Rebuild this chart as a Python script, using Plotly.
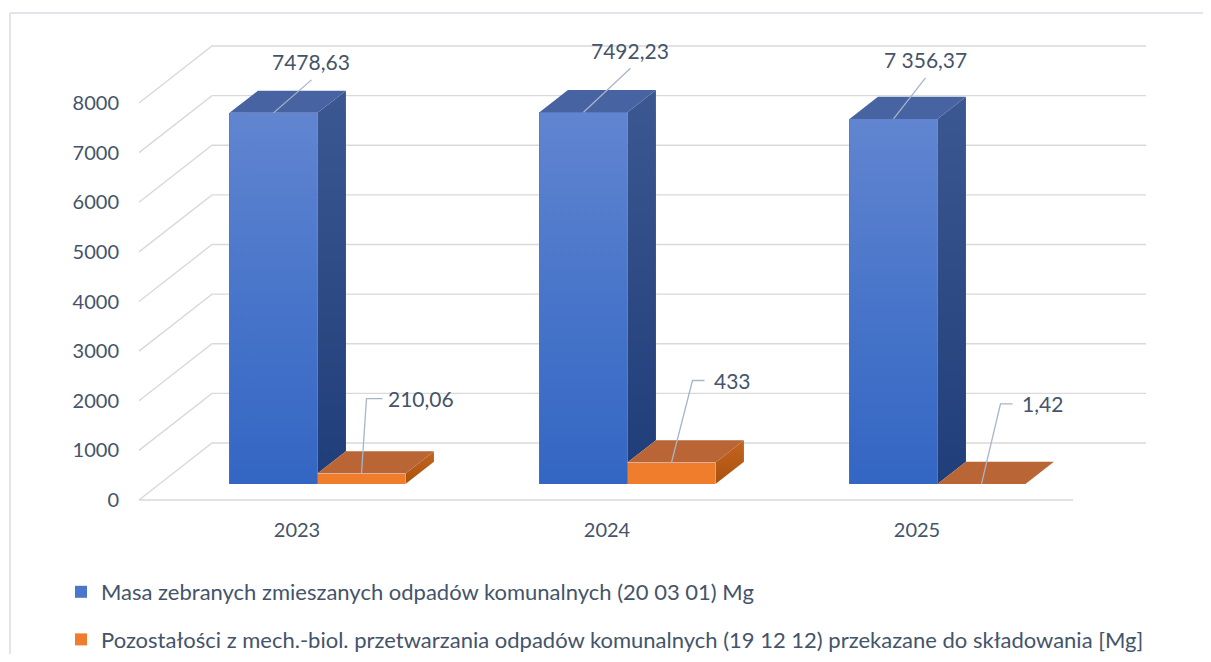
import plotly.graph_objects as go

# ---------------- data ----------------
years = ["2023", "2024", "2025"]
masa = [7478.63, 7492.23, 7356.37]
pozostalosci = [210.06, 433.0, 1.42]
masa_labels = ["7478,63", "7492,23", "7 356,37"]
pozostalosci_labels = ["210,06", "433", "1,42"]
y_ticks = [0, 1000, 2000, 3000, 4000, 5000, 6000, 7000, 8000]
series_names = [
    "Masa zebranych zmieszanych odpadów komunalnych (20 03 01) Mg",
    "Pozostałości z mech.-biol. przetwarzania odpadów komunalnych (19 12 12) przekazane do składowania [Mg]",
]

# ---------------- geometry (pixel layout -> axis units) ----------------
OFF = 8                                  # page body margin
W, H = 1211 - OFF, 662 - 2 * OFF
L, R, T, B = 130 - OFF, 1160 - OFF, 15 - OFF, 510 - OFF   # plot area (figure px)
X0, Y0 = 297 - OFF, 500 - OFF            # category 0 / value 0 on the front plane
SX = 310.0                               # px per category
SY = 49.625 / 1000.0                     # px per value unit


def dx(p):
    return p / SX


def dy(p):
    return p / SY


DX, DY = dx(73), dy(57)                  # full depth of the 3D box
F = 16 / 57                              # bars' front plane (fraction of depth)
BD = 0.39                                # bar depth (fraction of depth)
BW = dx(88)                              # bar width
FL = dx(139 - 297)                       # front-left of grid
BRX = dx(1146 - 297)                     # back-right of grid

base = F * DY
xoff = F * DX
bdx, bdy = BD * DX, BD * DY

TXT = "#44546A"
FONT = "Lato, 'Open Sans', sans-serif"
GRID = "#D9D9D9"
LEADER = "#A6B5C8"

fig = go.Figure()

blue_x = [i + xoff - BW / 2 for i in range(len(years))]
orng_x = [i + xoff + BW / 2 for i in range(len(years))]

fig.add_trace(go.Bar(
    x=blue_x, y=masa, base=base, width=BW, name=series_names[0],
    marker=dict(color="#4A77C9", line=dict(width=0)), legendgroup="a",
    hovertext=[f"{y}: {v}" for y, v in zip(years, masa_labels)], hoverinfo="text",
))
fig.add_trace(go.Bar(
    x=orng_x, y=pozostalosci, base=base, width=BW, name=series_names[1],
    marker=dict(color="#F07D2C", line=dict(width=0)), legendgroup="b",
    hovertext=[f"{y}: {v}" for y, v in zip(years, pozostalosci_labels)], hoverinfo="text",
))


def poly(xs, ys, color=None, grad=None):
    kw = dict(x=xs + [xs[0]], y=ys + [ys[0]], mode="lines", fill="toself",
              line=dict(width=0), hoverinfo="skip", showlegend=False)
    if grad:
        kw["fillgradient"] = dict(type="vertical", colorscale=grad)
    else:
        kw["fillcolor"] = color
    fig.add_trace(go.Scatter(**kw))


# blue 3D faces (front shading, side, top)
for i in range(len(years)):
    xl = blue_x[i] - BW / 2
    xr = blue_x[i] + BW / 2
    top = base + masa[i]
    b2 = base + pozostalosci[i]
    poly([xl, xr, xr, xl], [base, base, top, top],
         grad=[[0, "#3366C3"], [0.5, "#4875CA"], [1, "#6185D0"]])
    poly([xr, xr + bdx, xr + bdx, xr], [b2, b2 + bdy, top + bdy, top],
         grad=[[0, "#203E79"], [1, "#3C5893"]])
    poly([xl, xl + bdx, xr + bdx, xr], [top, top + bdy, top + bdy, top], color="#4863A1")

# orange 3D faces
for i in range(len(years)):
    xl = orng_x[i] - BW / 2
    xr = orng_x[i] + BW / 2
    top = base + pozostalosci[i]
    poly([xr, xr + bdx, xr + bdx, xr], [base, base + bdy, top + bdy, top],
         grad=[[0, "#A9510F"], [1, "#C4651F"]])
    poly([xl, xl + bdx, xr + bdx, xr], [top, top + bdy, top + bdy, top], color="#BA6536")

annotations = []

# blue labels: leader from top-front centre up to below the text
blue_off = [(38, 51), (47, 62), (32, 59)]
for i in range(len(years)):
    ax, ay = blue_x[i], base + masa[i]
    ox, oy = blue_off[i]
    fig.add_trace(go.Scatter(
        x=[ax, ax + dx(ox)], y=[ay, ay + dy(oy - 18)], mode="lines",
        line=dict(color=LEADER, width=1.3), hoverinfo="skip", showlegend=False))
    annotations.append(dict(x=ax, y=ay, xref="x", yref="y", text=masa_labels[i],
                            showarrow=False, xshift=ox, yshift=oy, xanchor="center",
                            yanchor="middle", font=dict(size=21, color=TXT, family=FONT)))

# orange labels: elbow leaders
orng_off = [(5, 21, 25, 75), (21, 33, 41, 82), (19, 31, 39, 80)]
for i in range(len(years)):
    ax, ay = orng_x[i], base + pozostalosci[i]
    ex, hx, tx, oy = orng_off[i]
    fig.add_trace(go.Scatter(
        x=[ax, ax + dx(ex), ax + dx(hx)], y=[ay, ay + dy(oy), ay + dy(oy)], mode="lines",
        line=dict(color=LEADER, width=1.3), hoverinfo="skip", showlegend=False))
    annotations.append(dict(x=ax, y=ay, xref="x", yref="y", text=pozostalosci_labels[i],
                            showarrow=False, xshift=tx, yshift=oy, xanchor="left",
                            yanchor="middle", font=dict(size=21, color=TXT, family=FONT)))

# gridlines (front-left -> back wall -> back-right), drawn below the bars
shapes = []
for v in y_ticks:
    shapes.append(dict(
        type="path", xref="x", yref="y", layer="below",
        path=f"M {FL},{v} L {FL + DX},{v + DY} L {BRX},{v + DY}",
        line=dict(color=GRID, width=1.4)))
shapes.append(dict(type="line", xref="x", yref="y", layer="below",
                   x0=FL, y0=0, x1=BRX - DX, y1=0, line=dict(color=GRID, width=1.4)))

# outer chart border: only the left and top edges are visible in the picture
bx0 = (10 - OFF - L) / (R - L)
bx1 = (W + 20 - L) / (R - L)
by1 = (B - (13 - OFF)) / (B - T)
by0 = (B - (H + 20)) / (B - T)
border = dict(color="#D9DEE6", width=1.5)
shapes.append(dict(type="line", xref="paper", yref="paper", layer="below",
                   x0=bx0, x1=bx1, y0=by1, y1=by1, line=border))
shapes.append(dict(type="line", xref="paper", yref="paper", layer="below",
                   x0=bx0, x1=bx0, y0=by0, y1=by1, line=border))

fig.update_layout(
    width=W, height=H, autosize=False,
    margin=dict(l=L, r=W - R, t=T, b=H - B, autoexpand=False),
    paper_bgcolor="white", plot_bgcolor="white",
    barmode="overlay", bargap=0,
    font=dict(family=FONT, color=TXT, size=20),
    xaxis=dict(range=[dx(L - X0), dx(R - X0)], tickvals=[0, 1, 2], ticktext=years,
               showgrid=False, zeroline=False, showline=False, ticks="",
               ticklabelstandoff=6, tickfont=dict(size=20, color=TXT), fixedrange=True,
               automargin=False),
    yaxis=dict(range=[dy(Y0 - B), dy(Y0 - T)], tickvals=y_ticks,
               ticktext=[str(v) for v in y_ticks],
               showgrid=False, zeroline=False, showline=False, ticks="",
               ticklabelstandoff=10, tickfont=dict(size=20, color=TXT), fixedrange=True,
               automargin=False),
    legend=dict(xref="container", yref="container", x=53 / W, y=1 - 563 / H,
                xanchor="left", yanchor="top", orientation="v",
                traceorder="grouped", tracegroupgap=16,
                font=dict(size=22, color=TXT, family=FONT), bgcolor="rgba(0,0,0,0)"),
    shapes=shapes,
    annotations=annotations,
)

fig.write_html("out.html")
